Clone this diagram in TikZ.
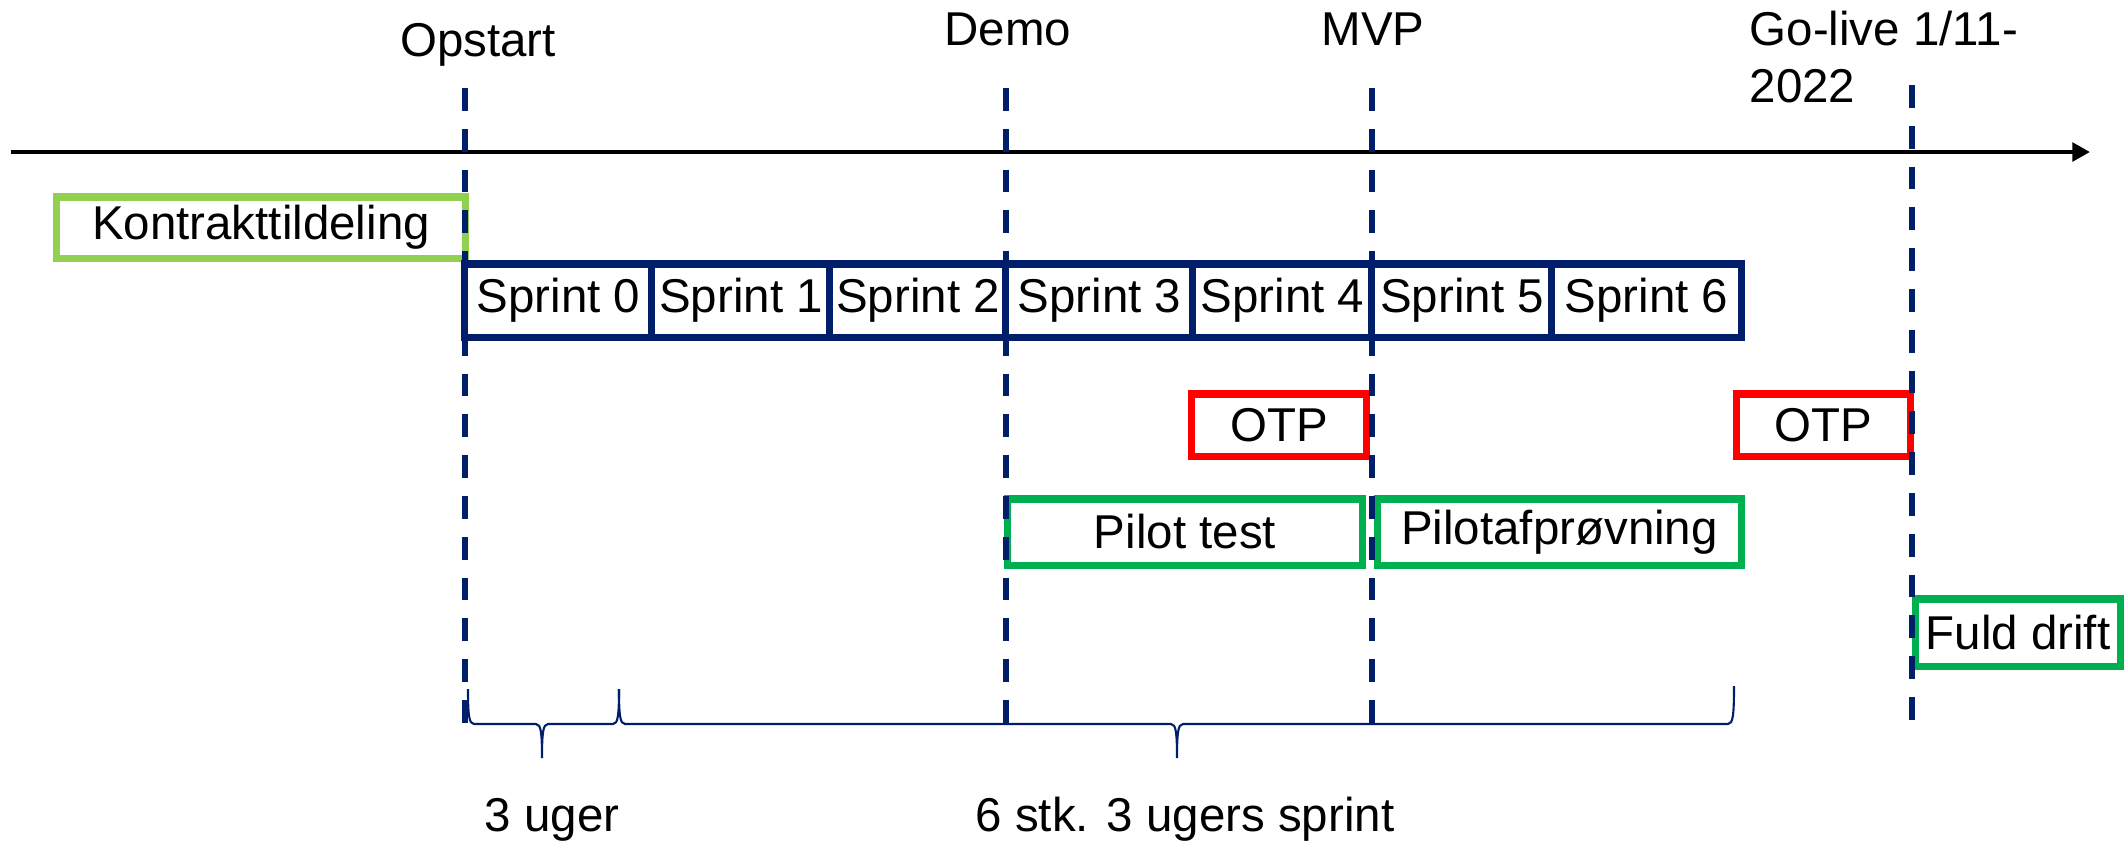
\documentclass[tikz,border=0pt]{standalone}
\usepackage{fontspec}
\setmainfont{Liberation Sans}
\usetikzlibrary{arrows.meta}
\definecolor{navy}{RGB}{0,30,105}
\definecolor{lgreen}{RGB}{146,208,80}
\definecolor{dgreen}{RGB}{0,176,80}
\definecolor{otpred}{RGB}{255,0,0}
\begin{document}
\begin{tikzpicture}[x=0.01cm,y=-0.01cm,
  every node/.style={font=\fontsize{13.5}{16.2}\selectfont},
  box/.style={draw,line width=2pt,fill=white,inner sep=0pt,align=center},
  sprintbox/.style={box,draw=navy,minimum height=0.73cm},
  lbl/.style={inner sep=0pt,anchor=base},
  milestone/.style={draw=navy,line width=1.7pt,dash pattern=on 6.5pt off 5.1pt},
  bracepath/.style={draw=navy,line width=0.6pt},
  timeline/.style={draw=black,line width=1.4pt,-{Triangle[length=5pt,width=5.2pt]}}]
\useasboundingbox (0,0) rectangle (2126,841);

% timeline
\coordinate (tl0) at (11,152);
\coordinate (tl1) at (2090,152);
\draw[timeline] (tl0) -- (tl1);

% boxes
\node[box,draw=lgreen,minimum width=4.08cm,minimum height=0.61cm] (kontrakt) at (261,227.5) {Kontrakttildeling};
\node[sprintbox,minimum width=1.87cm] (s0) at (558.5,300.5) {Sprint 0};
\node[sprintbox,minimum width=1.78cm] (s1) at (741,300.5) {Sprint 1};
\node[sprintbox,minimum width=1.76cm] (s2) at (918,300.5) {Sprint 2};
\node[sprintbox,minimum width=1.87cm] (s3) at (1099.5,300.5) {Sprint 3};
\node[sprintbox,minimum width=1.79cm] (s4) at (1282.5,300.5) {Sprint 4};
\node[sprintbox,minimum width=1.80cm] (s5) at (1462,300.5) {Sprint 5};
\node[sprintbox,minimum width=1.89cm] (s6) at (1646.5,300.5) {Sprint 6};
\node[box,draw=otpred,minimum width=1.74cm,minimum height=0.62cm] (otp1) at (1279,425) {OTP};
\node[box,draw=otpred,minimum width=1.73cm,minimum height=0.62cm] (otp2) at (1823.5,425) {OTP};
\node[box,draw=dgreen,minimum width=3.54cm,minimum height=0.66cm] (pilot) at (1185,532) {Pilot test};
\node[box,draw=dgreen,minimum width=3.63cm,minimum height=0.66cm] (pilotaf) at (1559.5,532) {Pilotafprøvning};
\node[box,draw=dgreen,minimum width=2.04cm,minimum height=0.67cm] (fuld) at (2018,632.5) {Fuld drift};

% milestone lines
\coordinate (m1t) at (465,88);  \coordinate (m1b) at (465,740);
\coordinate (m2t) at (1006,88); \coordinate (m2b) at (1006,740);
\coordinate (m3t) at (1372,88); \coordinate (m3b) at (1372,725);
\coordinate (m4t) at (1912,85); \coordinate (m4b) at (1912,737);
\draw[milestone] (m1t) -- (m1b);
\draw[milestone] (m2t) -- (m2b);
\draw[milestone] (m3t) -- (m3b);
\draw[milestone] (m4t) -- (m4b);

% milestone labels
\node[lbl] (opstart) at (478,56) {Opstart};
\node[lbl] (demo) at (1008,45) {Demo};
\node[lbl] (mvp) at (1373,45) {MVP};
\node[lbl,anchor=base west] (golive1) at (1749,45) {Go-live 1/11-};
\node[lbl,anchor=base west] (golive2) at (1749,102) {2022};

% braces
\draw[bracepath] (468,689) .. controls (468,715) and (469,724) .. (474,724) -- (536,724)
  .. controls (541,724) and (542,733) .. (542,758)
  .. controls (542,733) and (543,724) .. (548,724) -- (613,724)
  .. controls (618,724) and (619,715) .. (619,689);
\draw[bracepath] (619,689) .. controls (619,715) and (620,724) .. (625,724) -- (1171,724)
  .. controls (1176,724) and (1177,733) .. (1177,758)
  .. controls (1177,733) and (1178,724) .. (1183,724) -- (1728,724)
  .. controls (1733,724) and (1734,715) .. (1734,686);

\node[lbl] (uger) at (552,831) {3 uger};
\node[lbl] (stk) at (1185,831) {6 stk. 3 ugers sprint};
\end{tikzpicture}
\end{document}
